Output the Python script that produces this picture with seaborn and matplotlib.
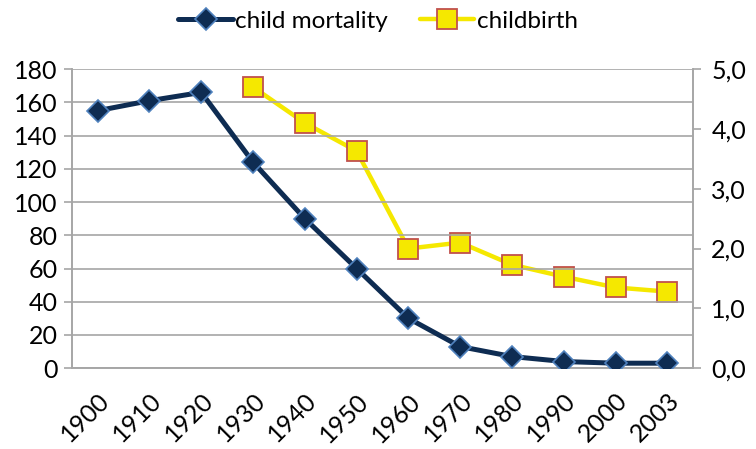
import numpy as np
import pandas as pd
import matplotlib
matplotlib.use("Agg")
import matplotlib.pyplot as plt
import seaborn as sns

# data
years = ["1900", "1910", "1920", "1930", "1940", "1950",
         "1960", "1970", "1980", "1990", "2000", "2003"]
child_mortality = [155, 161, 166, 124, 90, 60, 30, 13, 7, 4, 3, 3]
childbirth = [np.nan, np.nan, np.nan, 4.7, 4.1, 3.63, 2.0, 2.1, 1.73, 1.53, 1.35, 1.28]

df = pd.DataFrame({"pos": np.arange(len(years)), "year": years,
                   "mortality": child_mortality, "births": childbirth})

sns.set_style("white")
plt.rcParams['font.family'] = ['Lato', 'DejaVu Sans']
plt.rcParams['text.color'] = 'black'
plt.rcParams['xtick.labelcolor'] = 'black'
plt.rcParams['ytick.labelcolor'] = 'black'

fig = plt.figure(figsize=(7.56, 4.49), dpi=100)
ax = fig.add_axes([0.095, 0.180, 0.822, 0.666])
ax2 = ax.twinx()

grid_c = "#A6A6A6"
navy = "#0E2C52"
fs = 18

sns.lineplot(data=df, x="pos", y="mortality", ax=ax, color=navy, lw=3.6,
             marker="D", markersize=11, markerfacecolor=navy,
             markeredgecolor="#4F81BD", markeredgewidth=1.2,
             label="child mortality", legend=False, zorder=4)
d2 = df.dropna()
sns.lineplot(data=d2, x="pos", y="births", ax=ax2, color="#F5E800", lw=3.2,
             marker="s", markersize=14, markerfacecolor="#F5E800",
             markeredgecolor="#C0504D", markeredgewidth=1.3,
             label="childbirth", legend=False, zorder=3)

ax.set_ylim(0, 180)
ax.set_yticks(np.arange(0, 181, 20))
ax2.set_ylim(0, 5)
ax2.set_yticks(np.arange(0, 5.1, 1))
ax2.set_yticklabels([f"{v:.1f}".replace(".", ",") for v in np.arange(0, 5.1, 1)])

ax.set_xlim(-0.5, len(years) - 0.5)
ax.set_xticks(np.arange(len(years)))
ax.set_xticklabels(years, rotation=45, ha="right", rotation_mode="anchor")
ax.set_xticks(np.arange(len(years) + 1) - 0.5, minor=True)
ax.tick_params(axis="x", which="major", length=0, labelsize=fs, pad=15,
               labelcolor="black")
ax.tick_params(axis="x", which="minor", length=6, color=grid_c, width=1.2)
ax.tick_params(axis="y", length=6, color=grid_c, width=1.2, labelsize=fs, pad=4,
               labelcolor="black")
ax2.tick_params(axis="y", length=6, color=grid_c, width=1.2, labelsize=fs, pad=7,
                labelcolor="black")

ax.yaxis.grid(True, color=grid_c, lw=1.2)
ax.set_axisbelow(True)
ax.set_xlabel("")
ax.set_ylabel("")
ax2.set_ylabel("")

for a in (ax, ax2):
    a.spines["top"].set_visible(False)
    for s in ("left", "right", "bottom"):
        a.spines[s].set_color(grid_c)
        a.spines[s].set_linewidth(1.2)

ax.set_zorder(ax2.get_zorder() + 1)
ax.patch.set_visible(False)

h1, l1 = ax.get_legend_handles_labels()
h2, l2 = ax2.get_legend_handles_labels()
leg = fig.legend(h1 + h2, l1 + l2, loc="upper center", bbox_to_anchor=(0.5, 1.025),
                 ncol=2, frameon=False, fontsize=17.5, handlelength=2.25,
                 handletextpad=0.1, columnspacing=1.3)
for t in leg.get_texts():
    t.set_color("black")

fig.savefig("out.png", dpi=100)
